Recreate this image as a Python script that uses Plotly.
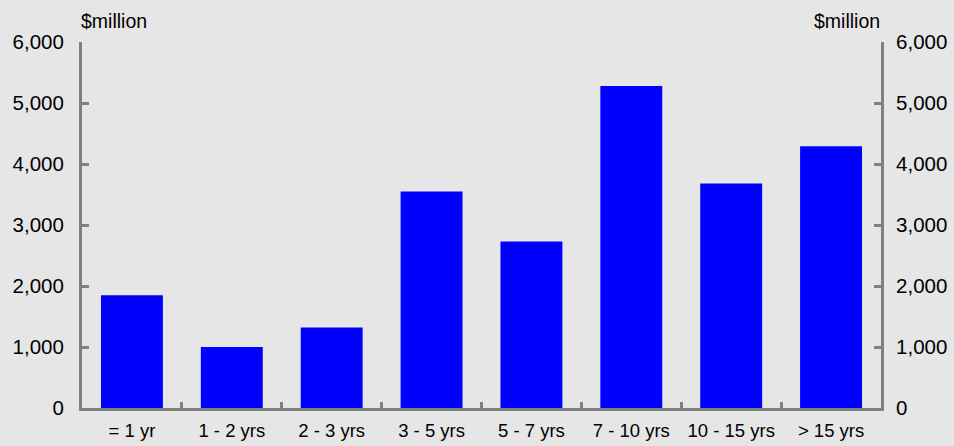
import plotly.graph_objects as go

categories = ["= 1 yr", "1 - 2 yrs", "2 - 3 yrs", "3 - 5 yrs", "5 - 7 yrs", "7 - 10 yrs", "10 - 15 yrs", "> 15 yrs"]
values = [1850, 1000, 1320, 3550, 2730, 5280, 3680, 4290]
y_ticks = [0, 1000, 2000, 3000, 4000, 5000, 6000]
y_tick_text = ["0", "1,000", "2,000", "3,000", "4,000", "5,000", "6,000"]

bg = "#e6e6e6"
axis_col = "#808080"
font = "Liberation Sans, Arial, sans-serif"

fig = go.Figure()
fig.add_trace(go.Bar(x=categories, y=values, marker=dict(color="#0000ff", line=dict(width=0)),
                     showlegend=False, hoverinfo="skip"))
fig.add_trace(go.Bar(x=categories, y=values, yaxis="y2", marker=dict(color="rgba(0,0,0,0)"),
                     showlegend=False, hoverinfo="skip", opacity=0))

fig.update_layout(
    width=954, height=446,
    margin=dict(l=82, r=73, t=42, b=38, autoexpand=False),
    paper_bgcolor=bg, plot_bgcolor=bg,
    bargap=0.38, barmode="overlay",
    font=dict(family=font, size=19, color="#000000"),
    xaxis=dict(showline=True, linecolor=axis_col, linewidth=3, ticks="inside", tickson="boundaries",
               ticklen=6, tickwidth=3, tickcolor=axis_col, showgrid=False, zeroline=False,
               tickfont=dict(size=18.5), ticklabelstandoff=4, tickangle=0, automargin=False),
    yaxis=dict(range=[0, 6000], tickvals=y_ticks, ticktext=y_tick_text, showline=True, linecolor=axis_col,
               linewidth=3, ticks="inside", ticklen=7, tickwidth=3, tickcolor=axis_col, showgrid=False,
               zeroline=False, tickfont=dict(size=20.5), ticklabelstandoff=11, automargin=False),
    yaxis2=dict(range=[0, 6000], tickvals=y_ticks, ticktext=y_tick_text, overlaying="y", side="right",
                showline=True, linecolor=axis_col, linewidth=3, ticks="inside", ticklen=7, tickwidth=3,
                tickcolor=axis_col, showgrid=False, zeroline=False, tickfont=dict(size=20.5),
                ticklabelstandoff=8, automargin=False),
    annotations=[
        dict(text="$million", xref="paper", yref="paper", x=0, y=1, xanchor="left", yanchor="bottom",
             xshift=-3, yshift=8, showarrow=False, font=dict(size=19.5)),
        dict(text="$million", xref="paper", yref="paper", x=1, y=1, xanchor="right", yanchor="bottom",
             xshift=1, yshift=8, showarrow=False, font=dict(size=19.5)),
    ],
)

fig.write_html("out.html")
